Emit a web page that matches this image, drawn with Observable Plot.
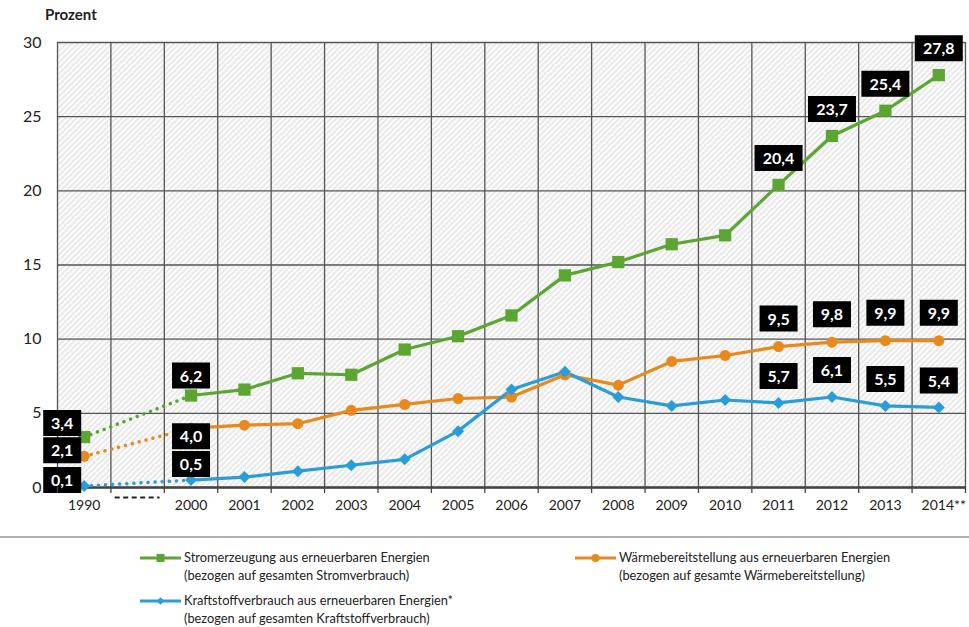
<!DOCTYPE html>
<html><head><meta charset="utf-8">
<script src="https://cdn.jsdelivr.net/npm/d3@7"></script>
<script src="https://cdn.jsdelivr.net/npm/@observablehq/plot@0.6"></script>
<style>
body{margin:0;background:#fff;font-family:Lato,"Open Sans",sans-serif;color:#222;}
#wrap{position:relative;width:969px;height:627px;overflow:hidden;}
#title{position:absolute;left:45px;top:5px;font-weight:bold;font-size:15px;color:#222;}
#chart{position:absolute;left:0;top:0;}
#rule{position:absolute;left:0;top:536px;width:969px;height:2px;background:#b0b0b0;}
.item{position:absolute;display:flex;align-items:flex-start;font-size:12.8px;line-height:18px;color:#222;}
.item svg{margin-top:1px;margin-right:3px;}
</style></head><body>
<div id="wrap">
<div id="chart"></div>
<div id="title">Prozent</div>
<div id="rule"></div>
<div id="legend"></div>
</div>
<script>
// ---- data ----
const categories = ["1990", "", "2000", "2001", "2002", "2003", "2004", "2005", "2006", "2007", "2008", "2009", "2010", "2011", "2012", "2013", "2014"];
const tickLabels = ["1990", "", "2000", "2001", "2002", "2003", "2004", "2005", "2006", "2007", "2008", "2009", "2010", "2011", "2012", "2013", "2014**"];
const years = ["1990", "2000", "2001", "2002", "2003", "2004", "2005", "2006", "2007", "2008", "2009", "2010", "2011", "2012", "2013", "2014"];
const strom = [3.4, 6.2, 6.6, 7.7, 7.6, 9.3, 10.2, 11.6, 14.3, 15.2, 16.4, 17.0, 20.4, 23.7, 25.4, 27.8];
const waerme = [2.1, 4.0, 4.2, 4.3, 5.2, 5.6, 6.0, 6.1, 7.6, 6.9, 8.5, 8.9, 9.5, 9.8, 9.9, 9.9];
const kraft = [0.1, 0.5, 0.7, 1.1, 1.5, 1.9, 3.8, 6.6, 7.8, 6.1, 5.5, 5.9, 5.7, 6.1, 5.5, 5.4];
const yTicks = [0, 5, 10, 15, 20, 25, 30];
const seriesNames = ["Stromerzeugung aus erneuerbaren Energien", "Wärmebereitstellung aus erneuerbaren Energien", "Kraftstoffverbrauch aus erneuerbaren Energien*"];
const seriesNotes = ["(bezogen auf gesamten Stromverbrauch)", "(bezogen auf gesamte Wärmebereitstellung)", "(bezogen auf gesamten Kraftstoffverbrauch)"];
const colors = ["#5ba532", "#e8891d", "#2a9dd8"];
const symbols = ["square", "circle", "diamond2"];

// ---- build ----
const idx = y => categories.indexOf(y);
const fmt = v => v.toFixed(1).replace(".", ",");
const valuesBySeries = [strom, waerme, kraft];
const rows = valuesBySeries.map((vals, s) => years.map((y, i) => ({s, year: y, x: idx(y), v: vals[i], text: fmt(vals[i])})));
const boundaries = categories.map((_, i) => i - 0.5).concat([categories.length - 0.5]);
const centers = categories.map((_, i) => i).filter(i => categories[i] !== "" && i !== categories.length - 1);

const boxSymbol = {draw(ctx, size) { const r = Math.sqrt(size / Math.PI); ctx.rect(-r, -13, 2 * r, 26); }};
function labels(data, dx, dy) {
  return [
    Plot.dot(data, {x: "x", y: "v", r: d => 4 + 5 * d.text.length, symbol: boxSymbol, fill: "#000", stroke: "none", dx, dy}),
    Plot.text(data, {x: "x", y: "v", text: "text", fill: "#fff", fontWeight: "bold", fontSize: 16, dx, dy: dy + 1})
  ];
}
const sel = (s, ys) => rows[s].filter(d => ys.includes(d.year));
const late = ["2011", "2012", "2013", "2014"];

const marks = [Plot.frame({fill: "url(#hatch)", stroke: "none"}),
  Plot.gridY(yTicks, {stroke: "#555", strokeOpacity: 1, strokeWidth: 1.3}),
  Plot.ruleX(boundaries, {stroke: "#555", strokeWidth: 1.3}),
  Plot.ruleY([0], {stroke: "#444", strokeWidth: 2.5}),
  Plot.ruleY([0], {x1: idx("") - 0.42, x2: idx("") + 0.42, dy: 10, stroke: "#222", strokeWidth: 2, strokeDasharray: "5,3.5"})
];
rows.forEach((r, s) => {
  marks.push(Plot.line(r.filter(d => d.year <= "2000"), {x: "x", y: "v", stroke: colors[s], strokeWidth: 3.5, strokeDasharray: "0.1,7", strokeLinecap: "round"}));
  marks.push(Plot.line(r.filter(d => d.year >= "2000"), {x: "x", y: "v", stroke: colors[s], strokeWidth: 3.2}));
});
rows.forEach((r, s) => {
  const rr = [6.9, 5.5, 5.4][s];
  marks.push(Plot.dot(r, {x: "x", y: "v", symbol: symbols[s], r: rr, fill: colors[s], stroke: "none"}));
});
marks.push(
  ...labels(sel(0, ["1990"]), -22, -14),
  ...labels(sel(1, ["1990"]), -22, -6),
  ...labels(sel(2, ["1990"]), -22, -6),
  ...labels(sel(0, ["2000"]), 0, -20),
  ...labels(sel(1, ["2000"]), 0, 8),
  ...labels(sel(2, ["2000"]), 0, -16),
  ...labels(sel(0, late), 0, -27),
  ...labels(sel(1, late), 0, -28),
  ...labels(sel(2, late), 0, -27),
  Plot.axisY(yTicks, {tickSize: 0, tickPadding: 16, fontSize: 16, fill: "#222", label: null}),
  Plot.axisX(boundaries, {tickSize: 6, tickFormat: () => "", stroke: "#444", strokeWidth: 1.3, label: null}),
  Plot.axisX(centers, {tickSize: 0, tickPadding: 13, fontSize: 14, tickFormat: i => tickLabels[i], fill: "#222", label: null}),
  Plot.axisX([categories.length - 1], {tickSize: 0, tickPadding: 13, fontSize: 14, tickFormat: i => tickLabels[i], fill: "#222", dx: 5, label: null})
);

const chart = Plot.plot({
  width: 969, height: 530,
  marginLeft: 57, marginRight: 4, marginTop: 42, marginBottom: 43,
  x: {type: "linear", domain: [-0.5, categories.length - 0.5], label: null},
  y: {domain: [0, 30], label: null},
  r: {type: "identity"},
  style: {fontFamily: "Lato, 'Open Sans', sans-serif", fontSize: "14px", color: "#222", background: "white"},
  marks
});
const ns = "http://www.w3.org/2000/svg";
const defs = document.createElementNS(ns, "defs");
defs.innerHTML = '<pattern id="hatch" patternUnits="userSpaceOnUse" width="4" height="4" patternTransform="rotate(45)"><rect width="4" height="4" fill="#fcfcfc"/><line x1="1" y1="0" x2="1" y2="4" stroke="#dadada" stroke-width="1.1"/></pattern>';
chart.prepend(defs);
document.getElementById("chart").appendChild(chart);

// ---- legend ----
const legendPos = [[140, 548], [575, 548], [140, 591]];
const lg = document.getElementById("legend");
seriesNames.forEach((name, s) => {
  const [lx, ly] = legendPos[s];
  const div = document.createElement("div");
  div.className = "item";
  div.style.left = lx + "px"; div.style.top = ly + "px";
  const sym = d3.symbol(d3[{square: "symbolSquare", circle: "symbolCircle", diamond2: "symbolDiamond2"}[symbols[s]]], [64, 50, 36][s])();
  div.innerHTML = `<svg width="41" height="18"><line x1="0" x2="41" y1="9" y2="9" stroke="${colors[s]}" stroke-width="3.2"/><path d="${sym}" transform="translate(20.5,9)" fill="${colors[s]}"/></svg><div>${name}<br>${seriesNotes[s]}</div>`;
  lg.appendChild(div);
});
</script>
</body></html>
